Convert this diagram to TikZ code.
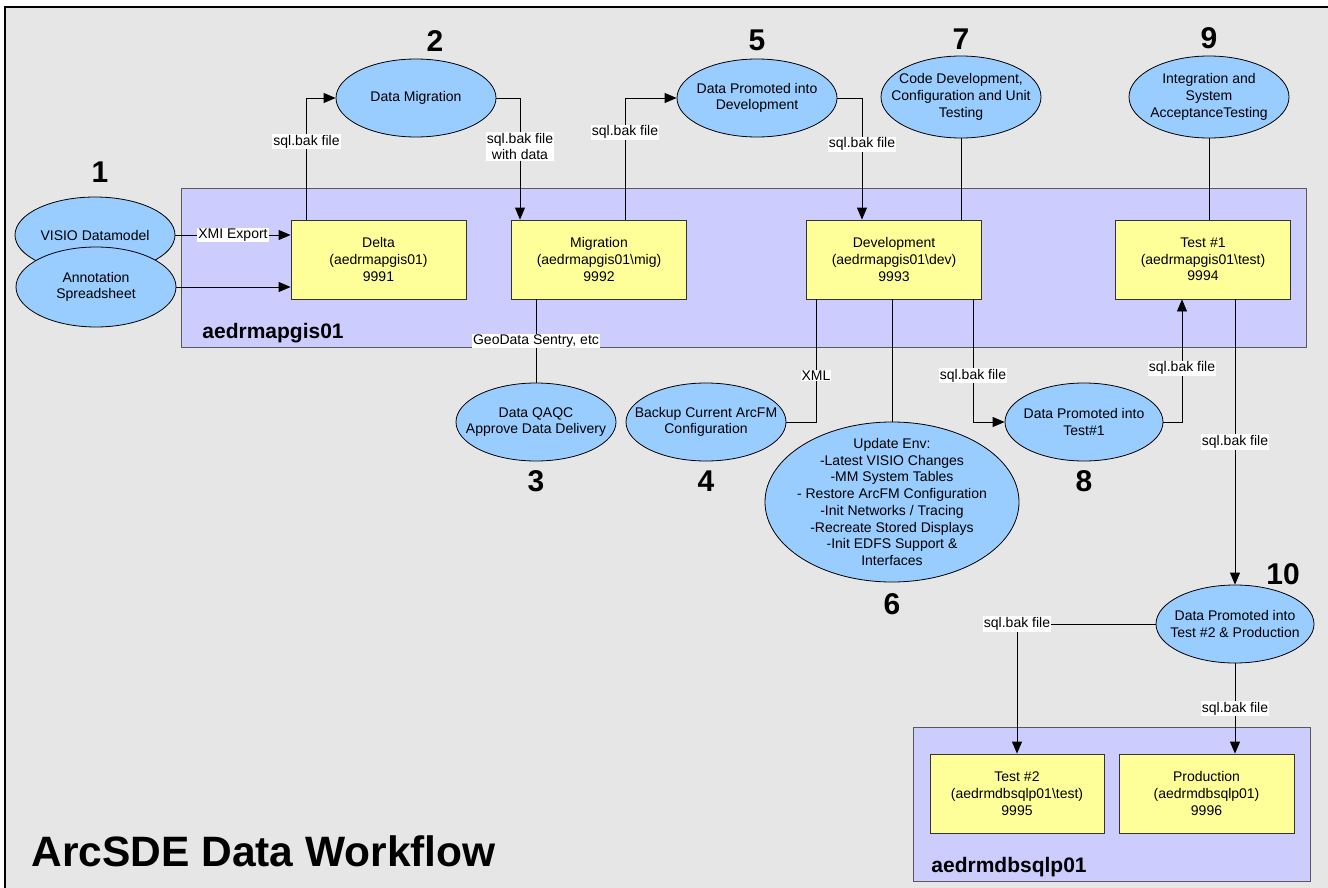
\documentclass[tikz,border=0pt]{standalone}
\usepackage{fontspec}
\setmainfont{Liberation Sans}
\usetikzlibrary{positioning,shapes.geometric,arrows.meta}
\definecolor{bggray}{HTML}{E6E6E6}
\definecolor{hostblue}{HTML}{CCCCFF}
\definecolor{stepblue}{HTML}{99CCFF}
\definecolor{dbyellow}{HTML}{FFFF99}
\tikzset{
	txt/.style={font=\fontsize{14}{16.7}\selectfont, align=center},
	proc/.style={txt, ellipse, draw=black, fill=stepblue, inner sep=-25pt, minimum width=160pt, minimum height=78pt},
	db/.style={txt, rectangle, draw=black!80, fill=dbyellow, minimum width=175pt, minimum height=79pt},
	host/.style={draw=black!65, fill=hostblue, line width=1pt},
	hostname/.style={anchor=base west, inner sep=0pt, font=\fontsize{21}{24}\selectfont\bfseries},
	num/.style={font=\fontsize{30}{33}\selectfont\bfseries, inner sep=0pt},
	lbl/.style={txt, fill=white, inner sep=1pt},
	arr/.style={-{Triangle[length=12pt,width=10pt]}},
}

\begin{document}
\begin{tikzpicture}[x=1pt, y=-1pt, line width=0.8pt]
	\useasboundingbox (0,0) rectangle (1328,888);
	\fill[bggray] (5,7) rectangle (1328,888);
	\draw[line width=1.2pt] (5,888) -- (5,7) -- (1328,7);
	\draw[host] (181,188) rectangle (1306,347);
	\draw[host] (913,727) rectangle (1310,881);
	\node[hostname] (hostA) at (202,338) {aedrmapgis01};
	\node[hostname] (hostB) at (931,872) {aedrmdbsqlp01};
	\node[anchor=base west, inner sep=0pt, font=\fontsize{42.5}{46}\selectfont\bfseries] (title) at (31,866) {ArcSDE Data Workflow};

	\node[db] (delta) at (378.5,259.5) {Delta\\(aedrmapgis01)\\9991};
	\node[db] (mig) at (599,259.5) {Migration\\(aedrmapgis01\textbackslash mig)\\9992};
	\node[db] (dev) at (894,259.5) {Development\\(aedrmapgis01\textbackslash dev)\\9993};
	\node[db] (testA) at (1203,259.5) {Test \#1\\(aedrmapgis01\textbackslash test)\\9994};
	\node[db, minimum width=174pt] (testB) at (1017,793.5) {Test \#2\\(aedrmdbsqlp01\textbackslash test)\\9995};
	\node[db] (prod) at (1206.5,793.5) {Production\\(aedrmdbsqlp01)\\9996};

	\node[proc, minimum height=76pt] (visio) at (95,235) {VISIO Datamodel};
	\node[proc, minimum height=80pt] (annot) at (96,287) {Annotation\\Spreadsheet};
	\node[proc] (dmig) at (416,98) {Data Migration};
	\node[proc] (pdev) at (757,98) {Data Promoted into\\Development};
	\node[proc, minimum height=82pt] (code) at (961,97) {Code Development,\\Configuration and Unit\\Testing};
	\node[proc, minimum height=82pt] (integ) at (1209,97) {Integration and\\System\\AcceptanceTesting};
	\node[proc] (qaqc) at (536,422) {Data QAQC\\Approve Data Delivery};
	\node[proc] (backup) at (706,422) {Backup Current ArcFM\\Configuration};
	\node[proc, minimum width=254pt, minimum height=160pt] (upd) at (892,502) {Update Env:\\-Latest VISIO Changes\\-MM System Tables\\- Restore ArcFM Configuration\\-Init Networks / Tracing\\-Recreate Stored Displays\\-Init EDFS Support \&\\Interfaces};
	\node[proc, minimum width=158pt] (ptest) at (1084,422) {Data Promoted into\\Test\#1};
	\node[proc, minimum width=158pt] (pprod) at (1235,624) {Data Promoted into\\Test \#2 \& Production};

	\node[num] (n1) at (100,172) {1};
	\node[num] (n2) at (435,41) {2};
	\node[num, above=7pt of pdev] (n5) {5};
	\node[num, above=6pt of code] (n7) {7};
	\node[num, above=6pt of integ] (n9) {9};
	\node[num, below=9pt of qaqc] (n3) {3};
	\node[num, below=9pt of backup] (n4) {4};
	\node[num, below=11pt of upd] (n6) {6};
	\node[num, below=9pt of ptest] (n8) {8};
	\node[num] (n10) at (1283,574) {10};

	\draw[arr] (visio.east) -- node[lbl] {XMI Export} (visio.east -| delta.west);
	\draw[arr] (annot.east) -- (annot.east -| delta.west);
	\draw[arr] ([xshift=-72pt]delta.north) |- node[lbl, pos=0.32] {sql.bak file} (dmig.west);
	\draw[arr] (dmig.east) -| node[lbl, pos=0.7] {sql.bak file\\with data} ([xshift=-79pt]mig.north);
	\draw[arr] ([xshift=26pt]mig.north) |- node[lbl, pos=0.36] {sql.bak file} (pdev.west);
	\draw[arr] (pdev.east) -| node[lbl, pos=0.69] {sql.bak file} ([xshift=-32pt]dev.north);
	\draw (code.south) -- (code.south |- dev.north);
	\draw (integ.south) -- (integ.south |- testA.north);
	\draw (qaqc.north |- mig.south) -- node[lbl] {GeoData Sentry, etc} (qaqc.north);
	\draw ([xshift=-78pt]dev.south) |- node[lbl, pos=0.31] {XML} (backup.east);
	\draw (upd.north |- dev.south) -- (upd.north);
	\draw[arr] ([xshift=79pt]dev.south) |- node[lbl, pos=0.31] {sql.bak file} (ptest.west);
	\draw[arr] (ptest.east) -| node[lbl, pos=0.72] {sql.bak file} ([xshift=-21pt]testA.south);
	\draw[arr] (pprod.north |- testA.south) -- node[lbl] {sql.bak file} (pprod.north);
	\draw[arr] (pprod.west) -| node[lbl] {sql.bak file} (testB.north);
	\draw[arr] (pprod.south) -- node[lbl] {sql.bak file} (pprod.south |- prod.north);
\end{tikzpicture}
\end{document}
